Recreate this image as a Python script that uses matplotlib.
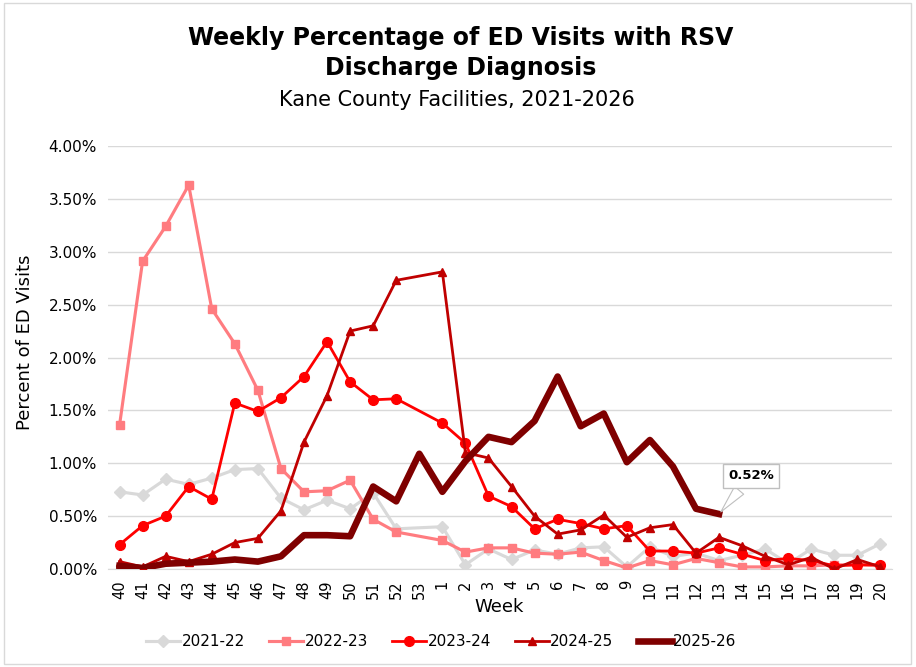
import numpy as np
import matplotlib
matplotlib.use("Agg")
import matplotlib.pyplot as plt
from matplotlib.patches import Rectangle

nan = np.nan

# week categories (week 53 only reported for 2025-26)
weeks = ["40", "41", "42", "43", "44", "45", "46", "47", "48", "49", "50", "51", "52", "53",
         "1", "2", "3", "4", "5", "6", "7", "8", "9", "10", "11", "12", "13", "14", "15",
         "16", "17", "18", "19", "20"]

s2021 = [0.73, 0.70, 0.85, 0.80, 0.86, 0.94, 0.95, 0.67, 0.56, 0.65, 0.57, 0.72, 0.38, nan,
         0.40, 0.04, 0.19, 0.09, 0.18, 0.14, 0.20, 0.21, 0.02, 0.21, 0.12, 0.15, 0.08, 0.13, 0.19,
         0.05, 0.19, 0.13, 0.13, 0.24]
s2022 = [1.36, 2.91, 3.24, 3.63, 2.46, 2.13, 1.69, 0.95, 0.73, 0.74, 0.84, 0.47, 0.35, nan,
         0.27, 0.16, 0.20, 0.20, 0.15, 0.14, 0.16, 0.08, 0.01, 0.08, 0.04, 0.10, 0.06, 0.02, 0.02,
         0.03, 0.03, 0.04, 0.04, 0.03]
s2023 = [0.23, 0.41, 0.50, 0.78, 0.66, 1.57, 1.49, 1.62, 1.82, 2.15, 1.77, 1.60, 1.61, nan,
         1.38, 1.19, 0.69, 0.59, 0.38, 0.47, 0.43, 0.38, 0.41, 0.17, 0.17, 0.15, 0.20, 0.14, 0.08,
         0.10, 0.08, 0.03, 0.04, 0.04]
s2024 = [0.07, 0.02, 0.12, 0.07, 0.14, 0.25, 0.29, 0.55, 1.20, 1.64, 2.25, 2.30, 2.73, nan,
         2.81, 1.10, 1.05, 0.78, 0.50, 0.33, 0.37, 0.51, 0.30, 0.39, 0.42, 0.15, 0.30, 0.22, 0.12,
         0.04, 0.11, 0.00, 0.09, 0.02]
s2025 = [0.03, 0.01, 0.05, 0.06, 0.07, 0.09, 0.07, 0.12, 0.32, 0.32, 0.31, 0.78, 0.64, 1.09,
         0.73, 1.02, 1.25, 1.20, 1.40, 1.82, 1.35, 1.47, 1.01, 1.22, 0.97, 0.57, 0.52, nan, nan,
         nan, nan, nan, nan, nan]

labels = ["2021-22", "2022-23", "2023-24", "2024-25", "2025-26"]
colors = ["#D9D9D9", "#FF7C80", "#FF0000", "#C00000", "#7F0000"]
markers = ["D", "s", "o", "^", None]
msizes = [6.5, 6, 7, 6, 0]
widths = [2.25, 2.25, 2.0, 2.0, 4.75]

fig = plt.figure(figsize=(9.16, 6.67), dpi=100)
ax = fig.add_axes([0.1179, 0.1469, 0.8559, 0.6342])

x = np.arange(len(weeks))
for vals, lab, c, m, ms, lw in zip([s2021, s2022, s2023, s2024, s2025],
                                   labels, colors, markers, msizes, widths):
    v = np.array(vals, dtype=float)
    ok = ~np.isnan(v)
    ax.plot(x[ok], v[ok], color=c, lw=lw, marker=m, markersize=ms,
            markeredgecolor=c, label=lab, zorder=3)

ax.set_xlim(-0.5, len(weeks) - 0.5)
ax.set_ylim(0, 4)
ax.set_yticks(np.arange(0, 4.01, 0.5))
ax.set_yticklabels([f"{t:.2f}%" for t in np.arange(0, 4.01, 0.5)], fontsize=11)
ax.set_xticks(x)
ax.set_xticklabels(weeks, rotation=90, fontsize=10.5)
ax.tick_params(axis="both", length=0, pad=8)
ax.grid(axis="y", color="#D9D9D9", lw=1)
ax.set_axisbelow(True)
for sp in ["top", "right", "left"]:
    ax.spines[sp].set_visible(False)
ax.spines["bottom"].set_color("#D9D9D9")

# callout on latest value
ax.annotate("0.52%", xy=(26, 0.52), xytext=(27.4, 0.88),
            fontsize=9.5, fontweight="bold", ha="center", va="center",
            bbox=dict(boxstyle="square,pad=0.4", fc="white", ec="#BFBFBF", lw=1),
            arrowprops=dict(arrowstyle="wedge,tail_width=0.9,shrink_factor=0.5",
                            fc="white", ec="#BFBFBF", lw=0.8),
            zorder=5)

fig.text(0.503, 0.943, "Weekly Percentage of ED Visits with RSV", ha="center", va="center",
         fontsize=17, fontweight="bold")
fig.text(0.503, 0.898, "Discharge Diagnosis", ha="center", va="center",
         fontsize=17, fontweight="bold")
fig.text(0.499, 0.850, "Kane County Facilities, 2021-2026", ha="center", va="center",
         fontsize=15)
fig.text(0.027, 0.487, "Percent of ED Visits", rotation=90, ha="center", va="center",
         fontsize=13)
fig.text(0.545, 0.090, "Week", ha="center", va="center", fontsize=13)

fig.legend(loc="center", bbox_to_anchor=(0.482, 0.0375), ncol=5, frameon=False,
           fontsize=11, handlelength=2.2, handletextpad=0.1, columnspacing=1.6)

fig.add_artist(Rectangle((0.004, 0.005), 0.991, 0.99, transform=fig.transFigure,
                         fill=False, ec="#D9D9D9", lw=1))

fig.savefig("out.png", dpi=100)
